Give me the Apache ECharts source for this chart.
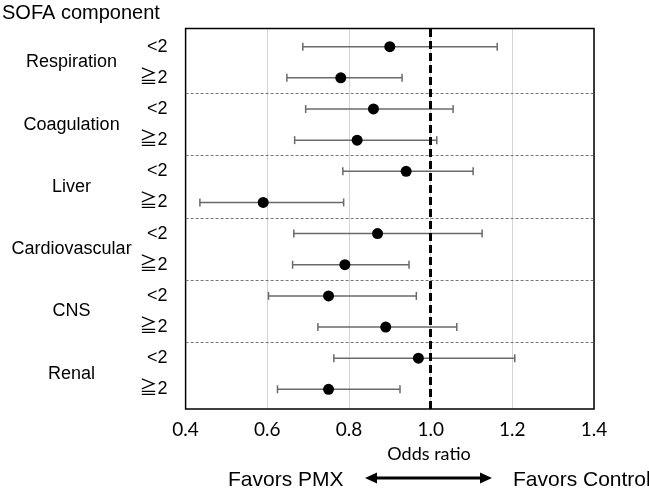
<!DOCTYPE html>
<html>
<head>
<meta charset="utf-8">
<script src="https://cdn.jsdelivr.net/npm/echarts@6/dist/echarts.min.js"></script>
<style>html,body{margin:0;padding:0;background:#fff}#c{width:649px;height:494px}</style>
</head>
<body>
<div id="c"></div>
<script>
// ---- data ----
const groups = ['Respiration', 'Coagulation', 'Liver', 'Cardiovascular', 'CNS', 'Renal'];
const levels = ['<2', '≧2'];
const oddsRatio = [0.90, 0.78, 0.86, 0.82, 0.94, 0.59, 0.87, 0.79, 0.75, 0.89, 0.97, 0.75];
const ciLower   = [0.687, 0.648, 0.694, 0.667, 0.785, 0.435, 0.665, 0.662, 0.603, 0.724, 0.763, 0.625];
const ciUpper   = [1.163, 0.930, 1.055, 1.015, 1.104, 0.787, 1.126, 0.947, 0.965, 1.064, 1.206, 0.925];
const xTicks = [0.4, 0.6, 0.8, 1.0, 1.2, 1.4];
const refValue = 1.0;

// ---- derived ----
const rowLabels = [];
groups.forEach(() => levels.forEach(l => rowLabels.push(l)));
const pointData = oddsRatio.map((v, i) => [v, i]);
const ciData = ciLower.map((lo, i) => [lo, ciUpper[i], i]);
const separators = groups.slice(1).map((_, i) => ({ yAxis: (i + 1) * levels.length - 0.5 }));

const ARIAL = '"Liberation Sans", Arial, "Noto Sans CJK JP", sans-serif';
const CAL = 'Lato, "Open Sans", sans-serif';

const chart = echarts.init(document.getElementById('c'), null, { renderer: 'canvas' });

const gridLeft = 185.6, gridRight = 55;

chart.setOption({
  animation: false,
  backgroundColor: '#fff',
  grid: [
    { left: gridLeft, right: gridRight, top: 31.1, bottom: 89.1, show: false },
    { left: gridLeft, right: gridRight, top: 28.5, bottom: 85, show: true, borderColor: '#000', borderWidth: 1.5, backgroundColor: 'transparent', z: 5 }
  ],
  xAxis: [
    { gridIndex: 0, type: 'value', min: xTicks[0], max: xTicks[xTicks.length - 1], interval: 0.2, show: false },
    { gridIndex: 1, type: 'value', min: xTicks[0], max: xTicks[xTicks.length - 1], interval: 0.2,
      axisLine: { show: false }, axisTick: { show: false },
      splitLine: { show: true, lineStyle: { color: '#d4d4d4', width: 1 } },
      axisLabel: { margin: 11, fontFamily: CAL, fontSize: 19, color: '#000', formatter: v => v.toFixed(1) } }
  ],
  yAxis: [
    { gridIndex: 0, type: 'value', min: -0.5, max: rowLabels.length - 0.5, inverse: true, show: false },
    { gridIndex: 0, type: 'category', data: rowLabels, inverse: true, position: 'left',
      axisLine: { show: false }, axisTick: { show: false }, splitLine: { show: false },
      axisLabel: { margin: 18, fontFamily: ARIAL, fontSize: 18, color: '#000' } },
    { gridIndex: 0, type: 'category', data: groups, inverse: true, position: 'left',
      axisLine: { show: false }, axisTick: { show: false }, splitLine: { show: false },
      axisLabel: { margin: 114, align: 'center', fontFamily: ARIAL, fontSize: 18, color: '#000' } },
    { gridIndex: 1, type: 'value', min: 0, max: 1, show: false }
  ],
  series: [
    {
      type: 'custom', xAxisIndex: 0, yAxisIndex: 0, z: 3,
      data: ciData,
      encode: { x: [0, 1], y: 2 },
      renderItem: function (params, api) {
        const y = api.value(2);
        const a = api.coord([api.value(0), y]);
        const b = api.coord([api.value(1), y]);
        const h = 4;
        const st = { stroke: '#6a6a6a', lineWidth: 1.5 };
        return {
          type: 'group',
          children: [
            { type: 'line', shape: { x1: a[0], y1: a[1], x2: b[0], y2: b[1] }, style: st },
            { type: 'line', shape: { x1: a[0], y1: a[1] - h, x2: a[0], y2: a[1] + h }, style: st },
            { type: 'line', shape: { x1: b[0], y1: b[1] - h, x2: b[0], y2: b[1] + h }, style: st }
          ]
        };
      }
    },
    {
      type: 'scatter', xAxisIndex: 0, yAxisIndex: 0, z: 4,
      data: pointData, symbol: 'circle', symbolSize: 11,
      itemStyle: { color: '#000', opacity: 1 },
      markLine: {
        silent: true, symbol: ['none', 'none'], label: { show: false },
        lineStyle: { color: '#555', width: 0.8, type: [3, 2] },
        data: separators
      }
    },
    {
      type: 'line', xAxisIndex: 1, yAxisIndex: 3, data: [], z: 6,
      markLine: {
        silent: true, symbol: ['none', 'none'], label: { show: false },
        lineStyle: { color: '#000', width: 3, type: [8, 4] },
        data: [{ xAxis: refValue }]
      }
    }
  ],
  graphic: [
    { type: 'text', left: 2, top: 3, style: { text: 'SOFA component', font: '20px ' + ARIAL, fill: '#000' } },
    { type: 'text', x: 429, y: 454, style: { text: 'Odds ratio', font: '18px ' + CAL, fill: '#000', align: 'center', verticalAlign: 'middle' } },
    { type: 'text', x: 228, y: 480, style: { text: 'Favors PMX', font: '21px ' + ARIAL, fill: '#000', align: 'left', verticalAlign: 'middle' } },
    { type: 'text', x: 513, y: 480, style: { text: 'Favors Control', font: '21px ' + ARIAL, fill: '#000', align: 'left', verticalAlign: 'middle' } },
    { type: 'line', shape: { x1: 372, y1: 478, x2: 485, y2: 478 }, style: { stroke: '#000', lineWidth: 3 } },
    { type: 'polygon', shape: { points: [[365, 478], [377, 472.5], [377, 483.5]] }, style: { fill: '#000' } },
    { type: 'polygon', shape: { points: [[492, 478], [480, 472.5], [480, 483.5]] }, style: { fill: '#000' } }
  ]
});
</script>
</body>
</html>
